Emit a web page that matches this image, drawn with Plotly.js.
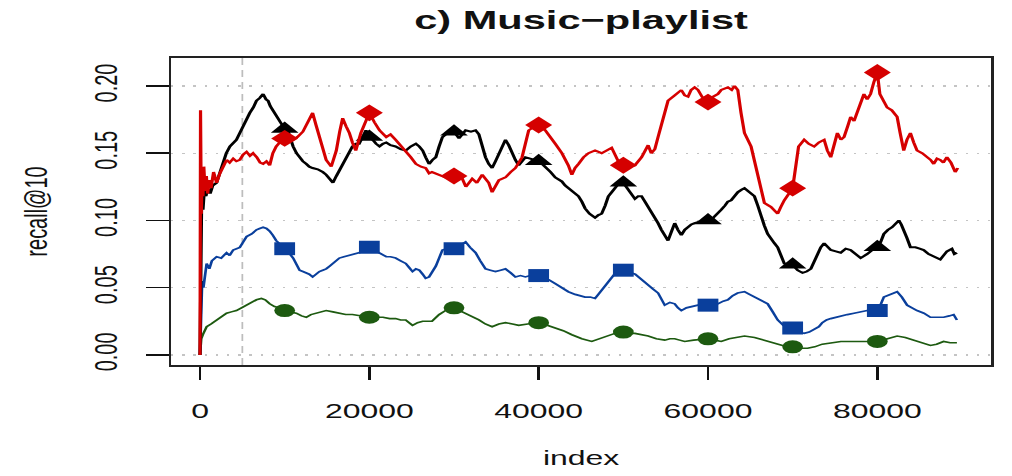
<!DOCTYPE html>
<html>
<head>
<meta charset="utf-8">
<script src="https://cdn.plot.ly/plotly-3.0.1.min.js"></script>
<style>
  html, body { margin: 0; padding: 0; background: #fff; overflow: hidden; }
  #wrap { width: 1012px; height: 476px; overflow: hidden; }
  #chart { width: 633px; height: 476px; transform: scaleX(1.5987); transform-origin: 0 0; }
</style>
</head>
<body>
<div id="wrap"><div id="chart"></div></div>
<script>
// recall@10 over the stream index, four methods
const redX = [0,60,150,250,350,450,600,750,900,1100,1300,1600,1960,2350,2750,3136,3500,3920,4300,4700,5100,5500,5900,6270,6700,7100,7450,7850,8230,8600,9000,9400,10000,10600,11000,11500,12150,12700,13300,13700,14100,14500,14900,15500,16100,16500,16850,17250,17640,18000,18400,19000,19500,20000,20600,21200,22000,22500,23100,23700,24300,24900,25500,26100,26650,27060,27400,28240,28800,29410,30000,30980,31400,32150,32700,33330,34100,34500,35300,36080,36700,37250,38040,38500,38820,39300,40000,40780,41400,41960,42740,43500,43920,44300,44700,45300,45880,46660,47440,48000,48620,49400,50000,50600,51370,52150,52930,53300,53720,54100,54500,55000,55280,56070,56850,57250,57640,58000,58420,58820,59300,60000,60600,61170,61560,62350,62800,63130,63520,63900,64310,65090,65500,65880,66270,66660,67440,67800,68230,68600,69010,70000,70400,70700,71360,71900,72540,73100,73720,74100,74500,74900,75280,75700,76070,76500,76850,77250,77640,78000,78420,78800,79200,79600,80000,80300,80700,81160,81700,82340,82700,83120,83500,83910,84300,84690,85300,85870,86300,86660,87050,87440,87800,88220,88700,89200,89500];
const redY = [0.000,0.182,0.105,0.135,0.118,0.140,0.122,0.133,0.120,0.130,0.124,0.136,0.128,0.135,0.141,0.145,0.143,0.146,0.144,0.145,0.149,0.151,0.148,0.150,0.147,0.143,0.142,0.144,0.141,0.150,0.155,0.158,0.161,0.163,0.160,0.162,0.166,0.172,0.180,0.171,0.162,0.151,0.145,0.140,0.152,0.166,0.176,0.170,0.165,0.158,0.152,0.165,0.172,0.180,0.173,0.167,0.162,0.164,0.160,0.156,0.152,0.147,0.142,0.140,0.139,0.135,0.136,0.134,0.133,0.131,0.133,0.131,0.125,0.131,0.128,0.134,0.128,0.121,0.130,0.132,0.136,0.139,0.147,0.158,0.167,0.169,0.171,0.167,0.161,0.157,0.150,0.141,0.134,0.139,0.142,0.147,0.150,0.152,0.150,0.152,0.154,0.144,0.141,0.140,0.141,0.147,0.156,0.150,0.153,0.162,0.172,0.183,0.189,0.193,0.197,0.193,0.192,0.197,0.199,0.197,0.192,0.188,0.192,0.194,0.197,0.199,0.197,0.200,0.197,0.180,0.165,0.155,0.143,0.132,0.122,0.113,0.110,0.108,0.105,0.110,0.115,0.124,0.140,0.155,0.160,0.157,0.155,0.158,0.160,0.152,0.147,0.158,0.165,0.160,0.162,0.170,0.177,0.174,0.180,0.186,0.194,0.190,0.194,0.203,0.210,0.194,0.190,0.184,0.182,0.177,0.165,0.152,0.160,0.165,0.158,0.152,0.150,0.147,0.145,0.142,0.146,0.145,0.143,0.147,0.143,0.136,0.139];

const blackX = [0,80,200,350,500,700,900,1200,1500,1960,2350,2740,3100,3530,3900,4300,4700,5100,5500,5880,6300,6670,7050,7450,7800,8040,8300,8600,9000,9400,10000,10200,10600,11000,11400,11760,12150,12550,12900,13300,13900,14500,14900,15300,15700,16100,16460,16850,17250,17640,18000,18400,18800,19200,19600,20000,20400,20800,21200,21600,22000,22500,23100,23700,24300,24900,25500,25900,26300,26650,27060,27450,27850,28240,28630,29200,30000,30590,31000,31370,32000,32550,32940,33330,33720,34100,34500,34900,35300,35700,36080,36460,36860,37250,37640,38040,38430,39000,40000,40400,40780,41400,41960,42740,43120,43520,44100,44700,45100,45480,46000,46660,47050,47440,47850,48230,48620,49010,49400,50000,50580,51000,51370,51760,52150,52550,52930,53300,53720,54100,54500,54890,55280,55700,56070,56450,56850,57250,57640,58030,58420,59000,60000,60390,60770,61160,61560,62000,62340,62740,63130,63520,64000,64310,64700,65090,65480,65880,66270,66660,67050,67440,67850,68230,68620,69010,70000,70580,71170,71650,72150,72550,72930,73320,73720,74100,74500,75100,75680,76270,76850,77450,78030,78800,79600,80000,80400,80770,81250,81750,82150,82540,82830,83120,83500,83910,84500,85000,85480,86060,86660,87050,87440,87830,88220,88810,89100,89400];
const blackY = [0.000,0.095,0.120,0.108,0.122,0.118,0.124,0.120,0.126,0.128,0.136,0.145,0.150,0.155,0.157,0.160,0.165,0.170,0.176,0.180,0.184,0.189,0.191,0.194,0.190,0.189,0.185,0.182,0.178,0.175,0.168,0.170,0.162,0.155,0.150,0.147,0.144,0.142,0.140,0.139,0.138,0.136,0.134,0.131,0.128,0.133,0.137,0.142,0.147,0.151,0.155,0.157,0.157,0.162,0.167,0.162,0.160,0.157,0.155,0.157,0.158,0.156,0.155,0.153,0.152,0.155,0.157,0.155,0.152,0.147,0.142,0.145,0.147,0.155,0.162,0.165,0.166,0.161,0.164,0.167,0.166,0.167,0.164,0.155,0.147,0.142,0.139,0.144,0.150,0.155,0.160,0.156,0.150,0.145,0.141,0.144,0.147,0.146,0.144,0.142,0.140,0.136,0.132,0.129,0.126,0.124,0.121,0.118,0.114,0.109,0.105,0.102,0.104,0.105,0.111,0.118,0.121,0.124,0.127,0.128,0.123,0.119,0.116,0.118,0.118,0.114,0.110,0.106,0.103,0.098,0.093,0.089,0.085,0.092,0.098,0.093,0.089,0.093,0.095,0.097,0.098,0.099,0.100,0.100,0.103,0.106,0.108,0.111,0.114,0.115,0.118,0.121,0.123,0.124,0.122,0.120,0.118,0.111,0.103,0.096,0.090,0.086,0.083,0.080,0.074,0.068,0.067,0.063,0.061,0.062,0.064,0.070,0.076,0.080,0.083,0.080,0.078,0.077,0.076,0.079,0.078,0.075,0.072,0.075,0.079,0.080,0.084,0.090,0.093,0.095,0.098,0.100,0.097,0.093,0.087,0.080,0.080,0.079,0.078,0.075,0.073,0.072,0.071,0.074,0.077,0.079,0.075,0.076];

const blueX = [0,100,250,400,600,784,1100,1400,1960,2500,3136,3500,3920,4300,4700,5100,5500,6100,6670,7050,7450,7850,8230,8600,9000,9500,10000,10500,11000,11400,11760,12150,12550,12900,13300,13700,14100,14500,14900,15300,15700,16100,16460,17000,17640,18200,18800,19400,20000,20600,21200,21600,22000,22500,23100,23700,24300,24700,25100,25500,25900,26300,26650,27060,27400,27850,28240,28630,29200,30000,30600,31000,31370,31900,32550,33100,33720,34300,34900,35500,36080,36700,37250,37850,38430,39000,40000,40600,41180,41960,42740,43500,44310,44900,45480,46100,46660,47050,47440,48030,48620,49200,50000,50600,50970,51400,51760,52350,52930,53500,54110,54500,54890,55500,56070,56450,56850,57450,58030,58800,60000,60600,61170,61800,62350,62900,63500,64310,64900,65480,66270,67050,67650,68230,68900,70000,70600,71360,71950,72540,73100,73500,74000,74500,75100,75900,76460,77250,78030,78800,80000,80300,80770,81500,82340,82900,83520,84100,84690,85500,86270,87000,87830,88500,89010,89400];
const blueY = [0.000,0.030,0.055,0.050,0.062,0.068,0.064,0.070,0.073,0.072,0.076,0.074,0.078,0.079,0.080,0.084,0.088,0.090,0.093,0.094,0.095,0.094,0.092,0.089,0.085,0.082,0.079,0.076,0.072,0.067,0.063,0.062,0.061,0.060,0.058,0.060,0.062,0.063,0.064,0.066,0.068,0.070,0.072,0.073,0.074,0.075,0.076,0.077,0.080,0.078,0.076,0.074,0.073,0.073,0.072,0.070,0.068,0.065,0.062,0.064,0.063,0.060,0.057,0.058,0.061,0.066,0.072,0.078,0.079,0.079,0.081,0.083,0.084,0.080,0.076,0.070,0.064,0.063,0.062,0.063,0.064,0.061,0.058,0.059,0.058,0.059,0.059,0.057,0.056,0.053,0.050,0.047,0.045,0.044,0.043,0.043,0.042,0.045,0.048,0.053,0.058,0.062,0.063,0.062,0.061,0.060,0.058,0.055,0.052,0.049,0.046,0.041,0.037,0.039,0.038,0.035,0.033,0.035,0.036,0.037,0.037,0.037,0.038,0.040,0.041,0.044,0.046,0.047,0.045,0.043,0.041,0.038,0.032,0.026,0.022,0.020,0.017,0.016,0.017,0.019,0.021,0.024,0.026,0.027,0.028,0.029,0.030,0.031,0.032,0.033,0.033,0.036,0.043,0.045,0.047,0.043,0.037,0.035,0.033,0.031,0.028,0.028,0.028,0.029,0.030,0.026];

const greenX = [0,150,400,784,1300,1960,2500,3136,3700,4300,4900,5500,6100,6670,7250,7700,8230,8800,9400,10000,10700,11370,12000,12550,13100,13700,14300,14900,15700,16460,17200,18000,19000,20000,20800,21600,22400,23100,23700,24300,24700,25100,25700,26300,27000,27400,28240,29000,30000,30700,31370,32100,32940,33700,34500,35300,36080,36900,37640,38700,40000,41000,41960,42900,43920,45100,46270,47200,48230,49000,50000,50700,51370,52150,52930,53900,54890,55500,56070,56650,57250,58300,60000,60800,61560,62500,63400,64310,65500,66660,67800,68800,70000,70900,71760,72600,73500,74500,75700,76850,78200,80000,81200,82340,83300,84300,85300,86270,87000,87830,88600,89400];
const greenY = [0.000,0.012,0.016,0.021,0.023,0.026,0.028,0.031,0.032,0.033,0.035,0.037,0.039,0.041,0.042,0.041,0.038,0.036,0.035,0.033,0.032,0.031,0.029,0.028,0.030,0.031,0.032,0.033,0.032,0.031,0.030,0.030,0.029,0.028,0.028,0.028,0.027,0.027,0.026,0.026,0.024,0.022,0.024,0.025,0.025,0.025,0.030,0.033,0.035,0.033,0.031,0.029,0.026,0.023,0.021,0.023,0.024,0.023,0.022,0.023,0.024,0.022,0.020,0.018,0.015,0.012,0.010,0.012,0.014,0.016,0.017,0.016,0.016,0.015,0.014,0.012,0.011,0.012,0.012,0.011,0.010,0.011,0.012,0.011,0.010,0.012,0.013,0.014,0.013,0.011,0.009,0.007,0.006,0.005,0.005,0.006,0.008,0.009,0.010,0.010,0.010,0.010,0.012,0.014,0.013,0.011,0.009,0.007,0.008,0.010,0.009,0.009];

// symbols every 10000 observations
const markIdx = [10000,20000,30000,40000,50000,60000,70000,80000];
const redMarks = [0.161,0.180,0.133,0.171,0.141,0.188,0.124,0.210];
const blackMarks = [0.168,0.162,0.166,0.144,0.128,0.100,0.067,0.080];
const blueMarks = [0.079,0.080,0.079,0.059,0.063,0.037,0.020,0.033];
const greenMarks = [0.033,0.028,0.035,0.024,0.017,0.012,0.006,0.010];

const xTickVals = [0,20000,40000,60000,80000];
const xTickText = ['0','20000','40000','60000','80000'];
const yTickVals = [0,0.05,0.10,0.15,0.20];
const yTickText = ['0.00','0.05','0.10','0.15','0.20'];

const FONT = '"Liberation Sans", Arial, Helvetica, sans-serif';

function lineTrace(x, y, color, width) {
  return { x: x, y: y, type: 'scatter', mode: 'lines', line: { color: color, width: width }, hoverinfo: 'skip', showlegend: false };
}
function markTrace(y, color, symbol, size) {
  return { x: markIdx, y: y, type: 'scatter', mode: 'markers', marker: { color: color, symbol: symbol, size: size, line: { width: 0 } }, hoverinfo: 'skip', showlegend: false };
}

const GREEN = '#1d5a10', BLUE = '#0a3f9c', BLACK = '#000000', RED = '#d50000';

const data = [
  lineTrace(greenX, greenY, GREEN, 1.6),
  markTrace(greenMarks, GREEN, 'circle', 13),
  lineTrace(blueX, blueY, BLUE, 1.7),
  markTrace(blueMarks, BLUE, 'square', 13),
  lineTrace(blackX, blackY, BLACK, 2),
  markTrace(blackMarks, BLACK, 'triangle-up', 15),
  lineTrace(redX, redY, RED, 2),
  markTrace(redMarks, RED, 'diamond', 13)
];

const layout = {
  width: 633,
  height: 476,
  margin: { l: 107, r: 13, t: 58, b: 111 },
  paper_bgcolor: '#ffffff',
  plot_bgcolor: '#ffffff',
  font: { family: FONT, color: '#111111', size: 20 },
  title: {
    text: '<b>c) Music\u2212playlist</b>',
    font: { family: FONT, size: 26, color: '#111111' },
    x: 0.5, xref: 'paper', xanchor: 'center',
    y: 0.958, yref: 'container', yanchor: 'middle'
  },
  xaxis: {
    range: [-3420, 93450],
    tickmode: 'array', tickvals: xTickVals, ticktext: xTickText,
    ticks: 'outside', ticklen: 13, tickwidth: 1.5, tickcolor: '#111111',
    ticklabelstandoff: 14,
    tickfont: { family: FONT, size: 20, color: '#111111' },
    showline: true, mirror: true, linecolor: '#222222', linewidth: 1.6,
    showgrid: false, zeroline: false,
    title: { text: 'index', font: { family: FONT, size: 20, color: '#111111' }, standoff: 30 }
  },
  yaxis: {
    range: [-0.0075, 0.2208],
    tickmode: 'array', tickvals: yTickVals, ticktext: yTickText,
    tickangle: -90,
    ticks: 'outside', ticklen: 14, tickwidth: 1.5, tickcolor: '#111111',
    ticklabelstandoff: 10,
    tickfont: { family: FONT, size: 20, color: '#111111' },
    showline: true, mirror: true, linecolor: '#222222', linewidth: 1.6,
    showgrid: true, gridcolor: '#c4c4c4', griddash: '1.5px,5.5px', gridwidth: 1.2,
    zeroline: false,
    title: { text: 'recall@10', font: { family: FONT, size: 20, color: '#111111' }, standoff: 20 }
  },
  shapes: [
    { type: 'line', xref: 'x', yref: 'paper', x0: 5000, x1: 5000, y0: 0, y1: 1,
      line: { color: '#bdbdbd', width: 1.1, dash: '7px,5px' }, layer: 'below' }
  ]
};

Plotly.newPlot('chart', data, layout, { displayModeBar: false, staticPlot: true });
</script>
</body>
</html>
